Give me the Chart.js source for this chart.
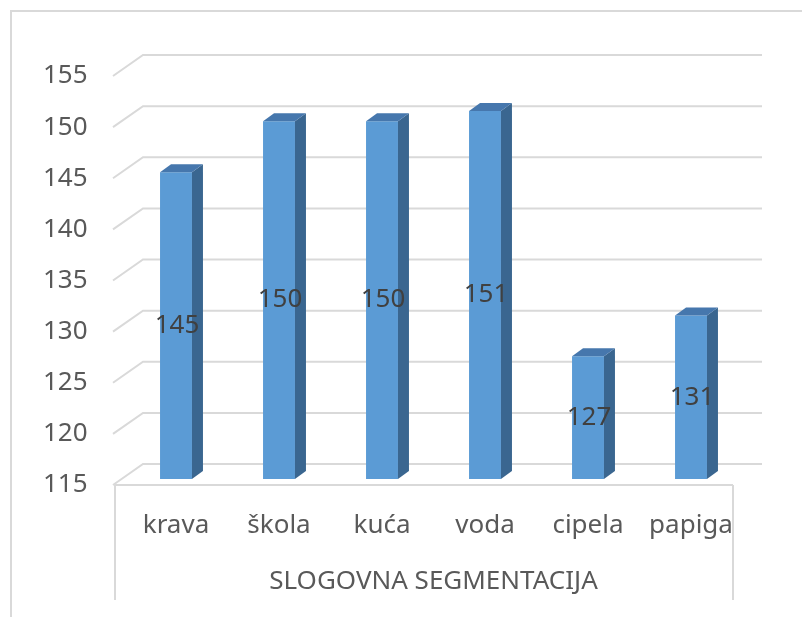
<!DOCTYPE html>
<html>
<head>
<meta charset="utf-8">
<script src="https://cdn.jsdelivr.net/npm/chart.js@4.4.0/dist/chart.umd.min.js"></script>
<style>
  html, body { margin: 0; padding: 0; background: #fff; }
  #wrap { position: relative; width: 802px; height: 617px; overflow: hidden; }
  #frame { position: absolute; left: 10px; top: 10px; width: 820px; height: 640px;
           border-left: 2px solid #d9d9d9; border-top: 2px solid #d9d9d9; box-sizing: border-box; }
  canvas { position: absolute; left: 0; top: 0; }
</style>
</head>
<body>
<div id="wrap">
  <div id="frame"></div>
  <canvas id="chart" width="802" height="617"></canvas>
</div>
<script>
const categories = ['krava', 'škola', 'kuća', 'voda', 'cipela', 'papiga'];
const values = [145, 150, 150, 151, 127, 131];
const axisTitle = 'SLOGOVNA SEGMENTACIJA';
const yMin = 115;
const yMax = 155;
const yStep = 5;

const FONT = '"Noto Sans", "Open Sans", sans-serif';
const gridColor = '#d9d9d9';

// 3D look: offsets of the back wall and the front floor edge from the bar plane
const back = { dx: 19.5, dy: -15 };
const front = { dx: -9.5, dy: 6 };
const depth = { dx: 11, dy: -8 };

const wallPlugin = {
  id: 'wall',
  beforeDatasetsDraw(chart) {
    const { ctx, chartArea } = chart;
    const y = chart.scales.y;
    ctx.save();
    ctx.strokeStyle = gridColor;
    ctx.lineWidth = 2;
    for (let v = yMin; v <= yMax; v += yStep) {
      const py = y.getPixelForValue(v);
      ctx.beginPath();
      ctx.moveTo(chartArea.left + front.dx - 2, py + front.dy);
      ctx.lineTo(chartArea.left + back.dx - 1, py + back.dy);
      ctx.lineTo(chartArea.right + back.dx, py + back.dy);
      ctx.stroke();
    }
    // front floor edge and category box
    const fy = y.getPixelForValue(yMin) + front.dy;
    const lx = chartArea.left + front.dx;
    const rx = chartArea.right + front.dx;
    ctx.beginPath();
    ctx.moveTo(lx, fy);
    ctx.lineTo(rx, fy);
    ctx.moveTo(lx, fy);
    ctx.lineTo(lx, fy + 115);
    ctx.moveTo(rx, fy);
    ctx.lineTo(rx, fy + 115);
    ctx.stroke();
    ctx.restore();
  },
  afterDatasetsDraw(chart) {
    const { ctx } = chart;
    const meta = chart.getDatasetMeta(0);
    const base = chart.scales.y.getPixelForValue(yMin);
    ctx.save();
    meta.data.forEach((bar, i) => {
      const x = bar.x, y = bar.y, width = bar.width;
      const l = x - width / 2, r = x + width / 2;
      // side face
      ctx.fillStyle = '#3a6690';
      ctx.beginPath();
      ctx.moveTo(r, y);
      ctx.lineTo(r + depth.dx, y + depth.dy);
      ctx.lineTo(r + depth.dx, base + depth.dy);
      ctx.lineTo(r, base);
      ctx.closePath();
      ctx.fill();
      // top face
      ctx.fillStyle = '#4677ad';
      ctx.beginPath();
      ctx.moveTo(l, y);
      ctx.lineTo(l + depth.dx, y + depth.dy);
      ctx.lineTo(r + depth.dx, y + depth.dy);
      ctx.lineTo(r, y);
      ctx.closePath();
      ctx.fill();
      // value label
      ctx.fillStyle = '#404040';
      ctx.font = '26px ' + FONT;
      ctx.textAlign = 'center';
      ctx.textBaseline = 'middle';
      ctx.fillText(String(values[i]), x + 1, (y + base) / 2);
    });
    ctx.restore();
  }
};

const data = {
  labels: categories,
  datasets: [
    {
      label: 'SLOGOVNA SEGMENTACIJA',
      data: values,
      backgroundColor: '#5b9bd5',
      borderWidth: 0,
      categoryPercentage: 1,
      barPercentage: 0.31
    }
  ]
};

const config = {
  type: 'bar',
  data: data,
  options: {
    responsive: false,
    animation: false,
    layout: { padding: { top: 70, right: 59.5, bottom: 0, left: 0 } },
    plugins: {
      legend: { display: false },
      tooltip: { enabled: false }
    },
    scales: {
      y: {
        min: yMin,
        max: yMax,
        grid: { display: false },
        border: { display: false },
        ticks: {
          stepSize: yStep,
          padding: 29,
          labelOffset: 6,
          color: '#595959',
          font: { family: FONT, size: 26 }
        },
        afterFit(scale) { scale.width = 124.5; }
      },
      x: {
        grid: { display: false },
        border: { display: false },
        ticks: {
          padding: 23,
          color: '#595959',
          font: { family: FONT, size: 26 }
        },
        title: {
          display: true,
          text: axisTitle,
          color: '#595959',
          font: { family: FONT, size: 26 },
          padding: { top: 28, bottom: 20 }
        },
        afterFit(scale) { scale.height = 138; }
      }
    }
  },
  plugins: [wallPlugin]
};

var chart = new Chart(document.getElementById('chart').getContext('2d'), config);
</script>
</body>
</html>
